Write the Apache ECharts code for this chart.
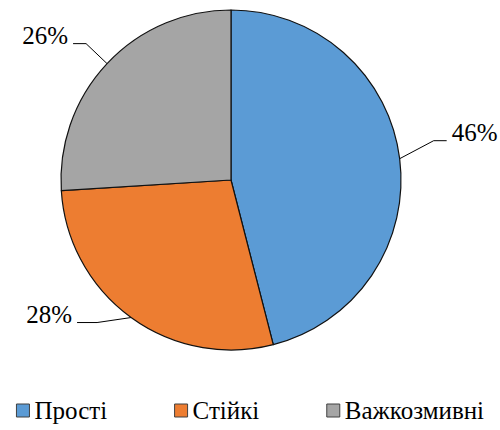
<!DOCTYPE html>
<html>
<head>
<meta charset="utf-8">
<script src="https://cdn.jsdelivr.net/npm/echarts@6/dist/echarts.min.js"></script>
<style>
html,body{margin:0;padding:0;background:#fff;}
#chart{width:500px;height:430px;}
</style>
</head>
<body>
<div id="chart"></div>
<script>
var categories=['Прості','Стійкі','Важкозмивні'];
var values=[46,28,26];
var colors=['#5b9bd5','#ed7d31','#a5a5a5'];

// leader line bends (relative to arc point) and horizontal tail length
var bends=[[34,-18],[-34,5],[-21,-20]];
var tails=[13,-20,-13];

var chart=echarts.init(document.getElementById('chart'),null,{renderer:'svg'});

var data=categories.map(function(c,i){
    return {name:c,value:values[i],itemStyle:{color:colors[i]}};
});

chart.setOption({
    animation:false,
    legend:{
        bottom:2,left:'center',
        icon:'rect',itemWidth:13,itemHeight:13,itemGap:67,
        itemStyle:{borderColor:'#404040',borderWidth:1},
        textStyle:{fontFamily:'Times New Roman',fontSize:25,color:'#000'},
        data:categories
    },
    series:[{
        type:'pie',
        center:[231,180],
        radius:170,
        startAngle:90,
        clockwise:true,
        data:data,
        itemStyle:{borderColor:'#111',borderWidth:1.2},
        label:{show:true,position:'outside',formatter:'{d}%',
            fontFamily:'Liberation Serif',fontSize:25,color:'#000'},
        labelLine:{show:true,length:20,length2:12,
            lineStyle:{color:'#000',width:1}},
        labelLayout:function(p){
            var a=p.labelLinePoints[0];
            var i=p.dataIndex;
            var b=[a[0]+bends[i][0],a[1]+bends[i][1]];
            var e=[b[0]+tails[i],b[1]];
            var right=tails[i]>0;
            return {
                x:e[0]+(right?5:-5),
                y:e[1]-8,
                align:right?'left':'right',
                verticalAlign:'middle',
                labelLinePoints:[a,b,e]
            };
        },
        emphasis:{disabled:true}
    }]
});
</script>
</body>
</html>
